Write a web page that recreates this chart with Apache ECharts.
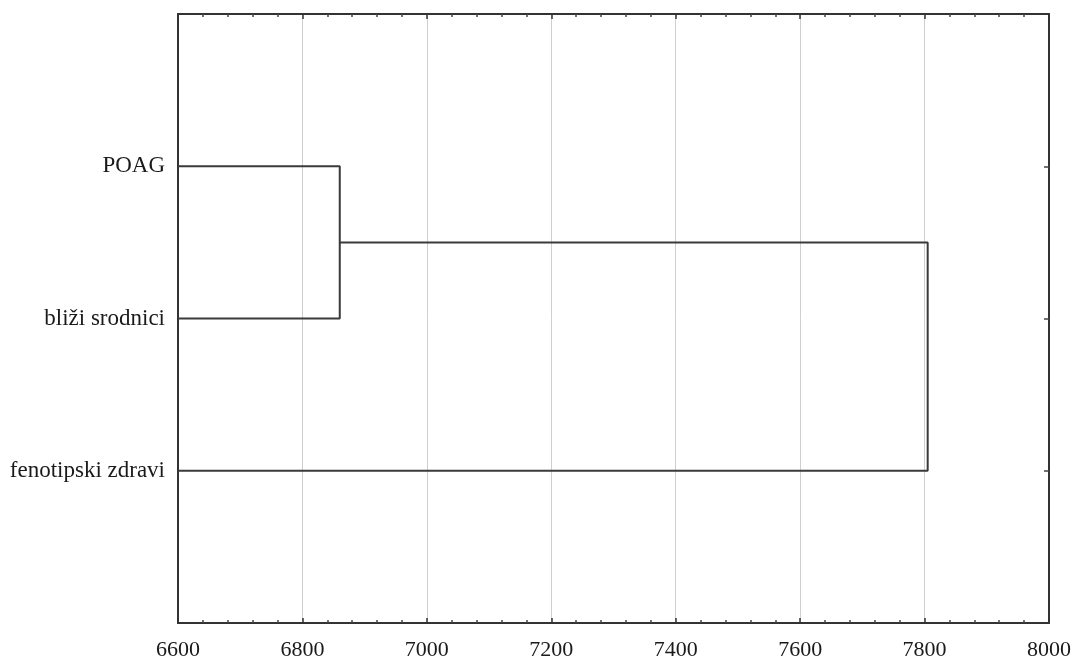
<!DOCTYPE html>
<html>
<head>
<meta charset="utf-8">
<script src="https://cdn.jsdelivr.net/npm/echarts@6/dist/echarts.min.js"></script>
<style>html,body{margin:0;padding:0;background:#fff}#c{width:1088px;height:661px}</style>
</head>
<body>
<div id="c"></div>
<script>
// Data
const leaves = ['POAG', 'bliži srodnici', 'fenotipski zdravi'];
const leafPos = [1, 2, 3];
const mergeHeights = [6860, 7805];   // linkage distances
const xTicks = [6600, 6800, 7000, 7200, 7400, 7600, 7800, 8000];
const axisMin = 6600, axisMax = 8000;

// Build dendrogram link paths from the data
const link1 = [
  [axisMin, leafPos[0]], [mergeHeights[0], leafPos[0]],
  [mergeHeights[0], leafPos[1]], [axisMin, leafPos[1]]
];
const mid1 = (leafPos[0] + leafPos[1]) / 2;
const link2 = [
  [mergeHeights[0], mid1], [mergeHeights[1], mid1],
  [mergeHeights[1], leafPos[2]], [axisMin, leafPos[2]]
];

const font = 'Liberation Serif';
const lineCol = '#3a3a3a';
const chart = echarts.init(document.getElementById('c'));
const xCommon = {
  type: 'value', min: axisMin, max: axisMax, interval: 200,
  axisLine: { show: true, onZero: false, lineStyle: { color: '#333', width: 2 } },
  axisTick: { show: true, inside: true, length: 5, lineStyle: { color: '#333', width: 1.5 } },
  minorTick: { show: true, splitNumber: 5, length: 3, lineStyle: { color: '#444', width: 1.5 } }
};
chart.setOption({
  animation: false,
  grid: { left: 178, right: 39, top: 14, bottom: 36 },
  xAxis: [
    Object.assign({}, xCommon, {
      position: 'bottom',
      axisLabel: { show: true, fontFamily: font, fontSize: 22, color: '#1a1a1a', margin: 16,
        formatter: v => xTicks.includes(v) ? String(v) : '' },
      splitLine: { show: true, lineStyle: { color: '#cfcfcf', width: 1 } }
    }),
    Object.assign({}, xCommon, {
      position: 'top',
      axisLabel: { show: false },
      splitLine: { show: false }
    })
  ],
  yAxis: [
    {
      type: 'value', min: 0, max: 4, interval: 1, inverse: true, position: 'left',
      axisLine: { show: true, onZero: false, lineStyle: { color: '#333', width: 2 } },
      axisTick: { show: false },
      splitLine: { show: false },
      axisLabel: {
        show: true, fontFamily: font, fontSize: 23, color: '#1a1a1a', margin: 13,
        customValues: leafPos,
        formatter: v => { const i = leafPos.indexOf(v); return i >= 0 ? leaves[i] : ''; }
      }
    },
    {
      type: 'value', min: 0, max: 4, interval: 1, inverse: true, position: 'right',
      axisLine: { show: true, onZero: false, lineStyle: { color: '#333', width: 2 } },
      axisTick: { show: true, inside: true, length: 5, customValues: leafPos, lineStyle: { color: '#444', width: 1.5 } },
      splitLine: { show: false },
      axisLabel: { show: false }
    }
  ],
  series: [
    { type: 'line', data: link1, symbol: 'none', lineStyle: { color: lineCol, width: 2 }, z: 5 },
    { type: 'line', data: link2, symbol: 'none', lineStyle: { color: lineCol, width: 2 }, z: 5 }
  ]
});
</script>
</body>
</html>
